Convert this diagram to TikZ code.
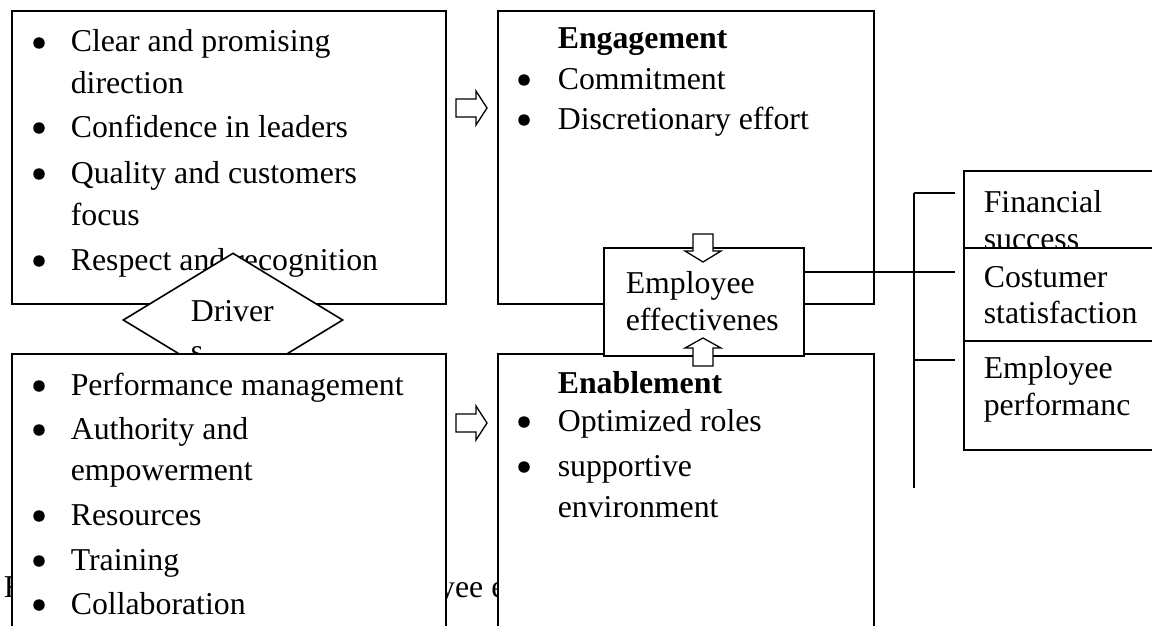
\documentclass[tikz,border=0pt]{standalone}
\usepackage{fontspec}
\setmainfont{Liberation Serif}
\usetikzlibrary{shapes.geometric}

\begin{document}
\begin{tikzpicture}[x=1pt, y=-1pt, line width=1.6pt]
    \tikzstyle{box} = [rectangle, draw=black, fill=white, anchor=north west, inner sep=0pt]
    \tikzstyle{txt} = [anchor=base west, inner sep=0pt, font=\fontsize{31.8pt}{36pt}\selectfont]
    \tikzstyle{dot} = [circle, fill=black, inner sep=0pt, minimum size=11.5pt]
    \tikzstyle{hollow} = [draw=black, fill=white, line width=1.3pt]

    \useasboundingbox (0,0) rectangle (1152,626);
    \clip (0,0) rectangle (1152,626);

    % caption, mostly hidden behind the boxes
    \node (caption) [txt] at (3,597) {Figure 1: The key driver of employee engagement};

    % drivers, upper half
    \node (drvup) [box, minimum width=434pt, minimum height=293pt] at (11,10) {};
    \foreach \y/\t [count=\i] in {52/Clear and promising, 93/direction, 137/Confidence in leaders, 183/Quality and customers, 225/focus, 270/Respect and recognition}
        \node (drvup\i) [txt] at (70,\y) {\t};
    \foreach \y in {52,137,183,270}
        \node (drvupdot\y) [dot] at (39,\y-9) {};

    % the diamond sits between both halves
    \node (drivers) [diamond, draw=black, fill=white, inner sep=0pt, minimum width=220pt, minimum height=134pt] at (233,320) {};
    \node (drivname) [txt] at (190,321) {Driver};
    \node (drivtail) [txt] at (190,361) {s};

    % drivers, lower half
    \node (drvlow) [box, minimum width=434pt, minimum height=300pt] at (11,353) {};
    \foreach \y/\t [count=\i] in {395/Performance management, 439/Authority and, 480/empowerment, 525/Resources, 570/Training, 614/Collaboration}
        \node (drvlow\i) [txt] at (70,\y) {\t};
    \foreach \y in {395,439,525,570,614}
        \node (drvlowdot\y) [dot] at (39,\y-9) {};

    % engagement and enablement
    \node (engage) [box, minimum width=376pt, minimum height=293pt] at (497,10) {};
    \node (engtitle) [txt, font=\fontsize{31.8pt}{36pt}\selectfont\bfseries] at (557,49) {Engagement};
    \node (eng1) [txt] at (557,89) {Commitment};
    \node (eng2) [txt] at (557,129) {Discretionary effort};
    \foreach \y in {89,129}
        \node (engdot\y) [dot] at (524,\y-9) {};

    \node (enable) [box, minimum width=376pt, minimum height=307pt] at (497,353) {};
    \node (enatitle) [txt, font=\fontsize{31.8pt}{36pt}\selectfont\bfseries] at (557,393) {Enablement};
    \node (ena1) [txt] at (557,431) {Optimized roles};
    \node (ena2) [txt] at (557,476) {supportive};
    \node (ena3) [txt] at (557,517) {environment};
    \foreach \y in {431,476}
        \node (enadot\y) [dot] at (524,\y-9) {};

    % effectiveness in the middle
    \node (eff) [box, minimum width=200pt, minimum height=108pt] at (603,247) {};
    \node (eff1) [txt] at (625,293) {Employee};
    \node (eff2) [txt] at (625,330) {effectivenes};

    % block arrows
    \foreach \c in {108,423}
        \draw[hollow] (456,\c-9) -- (476,\c-9) -- (476,\c-17) -- (487,\c) -- (476,\c+17) -- (476,\c+9) -- (456,\c+9) -- cycle;
    \draw[hollow] (693,234) -- (713,234) -- (713,251) -- (721,251) -- (703,262) -- (685,251) -- (693,251) -- cycle;
    \draw[hollow] (693,366) -- (713,366) -- (713,348) -- (721,348) -- (703,338) -- (685,348) -- (693,348) -- cycle;

    % outcomes
    \node (financial) [box, minimum width=220pt, minimum height=90pt] at (963,170) {};
    \node (fin1) [txt] at (983,212) {Financial};
    \node (fin2) [txt] at (983,249) {success};
    \node (customer) [box, minimum width=220pt, minimum height=93pt] at (963,247) {};
    \node (cus1) [txt] at (983,287) {Costumer};
    \node (cus2) [txt] at (983,323) {statisfaction};
    \node (perform) [box, minimum width=220pt, minimum height=109pt] at (963,340) {};
    \node (per1) [txt] at (983,378) {Employee};
    \node (per2) [txt] at (983,415) {performanc};

    \coordinate (fork) at (914,193);
    \coordinate (forkend) at (914,488);
    \coordinate (tick1) at (955,193);
    \coordinate (tick2) at (955,272);
    \coordinate (tick3) at (955,360);

    \draw (fork) -- (forkend);
    \draw (fork) -- (tick1);
    \draw (fork |- tick3) -- (tick3);
    \draw (eff.east |- tick2) -- (tick2);
\end{tikzpicture}
\end{document}
